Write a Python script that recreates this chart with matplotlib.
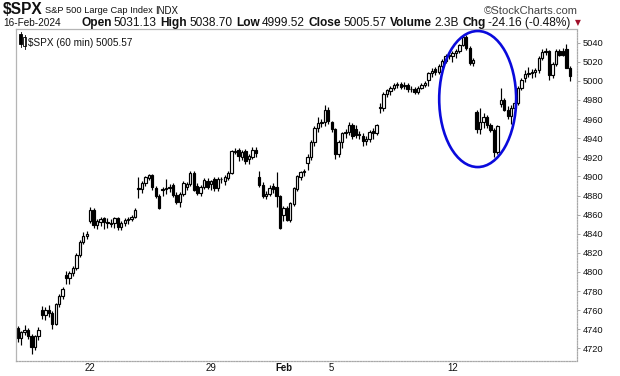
import matplotlib
matplotlib.use("Agg")
import matplotlib.pyplot as plt
from matplotlib.patches import Rectangle, Ellipse

# ---- data (60-min bars, Jan 17 - Feb 16 2024), 7 bars per trading day ----
opens = [4741, 4731, 4737, 4739, 4733, 4721, 4733,
         4760, 4755, 4760, 4757, 4746, 4766, 4775,
         4797, 4794, 4799, 4804, 4818, 4831, 4838,
         4853, 4865, 4849, 4852, 4856, 4852, 4851,
         4851, 4856, 4847, 4851, 4854, 4855, 4858,
         4888, 4887, 4893, 4898, 4902, 4888, 4880,
         4886, 4887, 4888, 4891, 4881, 4873, 4882,
         4889, 4892, 4904, 4890, 4883, 4889, 4895,
         4892, 4897, 4888, 4897, 4895, 4898, 4904,
         4926, 4928, 4920, 4927, 4918, 4920, 4928,
         4899, 4891, 4880, 4882, 4890, 4889, 4879,
         4860, 4867, 4854, 4871, 4887, 4899, 4905,
         4914, 4920, 4936, 4951, 4956, 4957, 4970,
         4957, 4950, 4923, 4936, 4945, 4946, 4954,
         4950, 4943, 4942, 4937, 4939, 4948, 4945,
         4973, 4972, 4986, 4989, 4993, 4996, 4997,
         4995, 4996, 4991, 4992, 4988, 4993, 4996,
         5001, 5008, 5012, 5009, 5016, 5021, 5026,
         5026, 5029, 5031, 5038, 5046, 5034, 5019,
         4967, 4950, 4957, 4962, 4954, 4949, 4926,
         4976, 4980, 4970, 4963, 4972, 4977, 4993,
         5003, 5007, 5008, 5009, 5011, 5024, 5030,
         5031.13, 5006, 5018, 5031, 5031, 5033, 5014]
highs = [4743, 4738, 4744, 4741, 4735, 4734, 4742,
         4764, 4763, 4765, 4759, 4768, 4777, 4784,
         4801, 4801, 4806, 4820, 4833, 4842, 4843,
         4868, 4867, 4855, 4857, 4858, 4856, 4855,
         4858, 4858, 4853, 4856, 4858, 4860, 4867,
         4899, 4895, 4900, 4903, 4903, 4890, 4882,
         4889, 4897, 4892, 4893, 4884, 4884, 4895,
         4894, 4906, 4906, 4893, 4891, 4898, 4898,
         4896, 4899, 4899, 4899, 4901, 4906, 4928,
         4930, 4930, 4928, 4929, 4923, 4931, 4931,
         4906, 4894, 4885, 4891, 4893, 4905, 4881,
         4869, 4869, 4873, 4889, 4901, 4906, 4908,
         4923, 4938, 4953, 4962, 4960, 4975, 4973,
         4958, 4951, 4938, 4947, 4950, 4957, 4956,
         4954, 4948, 4945, 4942, 4949, 4951, 4955,
         4977, 4988, 4992, 4995, 4998, 4999, 4999,
         4999, 4998, 4995, 4994, 4995, 4998, 5000,
         5009, 5013, 5015, 5018, 5023, 5028, 5030,
         5031, 5033, 5039, 5048, 5048, 5036, 5024,
         4970, 4972, 4966, 4964, 4956, 4951, 4954,
         4993, 4982, 4974, 4975, 4980, 4995, 5003,
         5011, 5015, 5012, 5013, 5026, 5033, 5034,
         5032, 5020, 5033, 5033, 5034, 5038.70, 5016]
lows = [4727, 4724, 4734, 4730, 4714, 4718, 4729,
        4751, 4750, 4753, 4740, 4744, 4763, 4772,
        4787, 4787, 4796, 4802, 4816, 4829, 4835,
        4851, 4846, 4845, 4848, 4845, 4846, 4847,
        4846, 4844, 4844, 4848, 4850, 4853, 4856,
        4877, 4883, 4890, 4896, 4886, 4877, 4866,
        4880, 4882, 4884, 4878, 4871, 4868, 4880,
        4886, 4890, 4885, 4881, 4880, 4887, 4887,
        4886, 4885, 4885, 4893, 4891, 4896, 4903,
        4923, 4916, 4917, 4913, 4913, 4918, 4920,
        4889, 4877, 4876, 4879, 4883, 4868, 4845,
        4853, 4853, 4852, 4869, 4885, 4896, 4900,
        4907, 4917, 4932, 4946, 4952, 4953, 4955,
        4947, 4918, 4920, 4930, 4940, 4943, 4939,
        4940, 4939, 4932, 4933, 4936, 4939, 4943,
        4966, 4968, 4983, 4985, 4990, 4993, 4991,
        4991, 4988, 4988, 4986, 4986, 4991, 4994,
        4995, 5004, 5006, 5007, 5014, 5019, 5023,
        5020, 5024, 5029, 5036, 5032, 5017, 5016,
        4945, 4944, 4951, 4951, 4946, 4920, 4923,
        4973, 4968, 4960, 4955, 4969, 4975, 4990,
        4999, 5004, 5003, 5004, 5008, 5022, 5027,
        5001, 5003, 5016, 5026, 5026, 5013, 4999.52]
closes = [4731, 4737, 4739, 4733, 4721, 4733, 4739,
          4755, 4760, 4757, 4746, 4766, 4775, 4782,
          4794, 4799, 4804, 4818, 4831, 4838, 4840,
          4865, 4849, 4853, 4855, 4852, 4851, 4850,
          4856, 4847, 4851, 4854, 4855, 4858, 4865,
          4887, 4893, 4899, 4902, 4889, 4880, 4867,
          4887, 4888, 4889, 4881, 4873, 4882, 4893,
          4892, 4904, 4886, 4883, 4889, 4896, 4889,
          4895, 4888, 4897, 4897, 4899, 4904, 4927,
          4927, 4921, 4926, 4916, 4921, 4928, 4924,
          4891, 4880, 4882, 4888, 4887, 4879, 4846,
          4867, 4854, 4872, 4888, 4900, 4905, 4906,
          4920, 4936, 4951, 4956, 4957, 4970, 4958,
          4950, 4923, 4936, 4945, 4946, 4954, 4942,
          4943, 4944, 4937, 4939, 4947, 4945, 4954,
          4972, 4986, 4990, 4993, 4996, 4997, 4994,
          4996, 4991, 4992, 4988, 4993, 4996, 4998,
          5008, 5010, 5009, 5016, 5021, 5026, 5027,
          5029, 5031, 5038, 5046, 5034, 5019, 5022,
          4950, 4957, 4962, 4954, 4949, 4926, 4953,
          4980, 4970, 4963, 4972, 4977, 4993, 5001,
          5007, 5008, 5009, 5011, 5024, 5030, 5031,
          5006, 5018, 5031, 5027, 5027, 5014, 5005.57]

x_tick_bars = [21, 56, 77, 91, 126]
x_tick_labels = ["22", "29", "Feb", "5", "12"]
y_ticks = list(range(4720, 5041, 20))

title_symbol = "$SPX"
title_name = "S&P 500 Large Cap Index"
title_exch = "INDX"
header_date = "16-Feb-2024"
header_fields = [("Open", "5031.13"), ("High", "5038.70"), ("Low", "4999.52"),
                 ("Close", "5005.57"), ("Volume", "2.3B"), ("Chg", "-24.16 (-0.48%)")]
legend_text = "$SPX (60 min) 5005.57"

# ---- figure ----
W, H = 620, 376
fig = plt.figure(figsize=(W / 100, H / 100), dpi=100)
fig.patch.set_facecolor("white")
L, R, T, B = 16, 576.7, 29.3, 360.7
ax = fig.add_axes([L / W, 1 - B / H, (R - L) / W, (B - T) / H])

FONT = ["Liberation Sans", "DejaVu Sans"]
TXT = "#111111"

lw = 0.85
bw = 0.68
for i, (o, h, l, c) in enumerate(zip(opens, highs, lows, closes)):
    ax.plot([i, i], [l, h], color="black", lw=lw, zorder=1, solid_capstyle="butt")
    bottom = min(o, c)
    height = max(abs(c - o), 0.8)
    up = c >= o
    ax.add_patch(Rectangle((i - bw / 2, bottom), bw, height,
                           facecolor="white" if up else "black",
                           edgecolor="black", lw=lw, zorder=2))

ax.add_patch(Ellipse((133.3, 4981), width=22.3, height=142.4, fill=False,
                     edgecolor="#0a0adc", lw=1.9, zorder=5))

ax.set_xlim(-0.5, 162)
ax.set_ylim(4707.1, 5054.0)

ax.yaxis.tick_right()
ax.set_yticks(y_ticks)
ax.set_yticklabels([str(v) for v in y_ticks], fontsize=6.7, family=FONT, color=TXT)
ax.tick_params(axis="y", direction="out", length=2.5, width=0.6, color="#999999", pad=2)

ax.set_xticks(x_tick_bars)
ax.set_xticklabels(x_tick_labels, fontsize=6.9, family=FONT, color=TXT)
for t in ax.get_xticklabels():
    if t.get_text() == "Feb":
        t.set_fontweight("bold")
ax.tick_params(axis="x", direction="out", length=0, pad=2)

for s in ["top", "left"]:
    ax.spines[s].set_color("#b5b5b5")
    ax.spines[s].set_linewidth(0.9)
for s in ["right", "bottom"]:
    ax.spines[s].set_color("#a8a8a8")
    ax.spines[s].set_linewidth(0.9)
    ax.spines[s].set_linestyle((0, (1, 1.2)))

# legend text inside plot
ax.text(0.021, 0.975, legend_text, transform=ax.transAxes,
        fontsize=7.2, family=FONT, va="top", ha="left", color=TXT)
for dx, (y0, y1, fill) in enumerate([(0.955, 0.985, "black"), (0.950, 0.978, "white")]):
    xx = 0.006 + dx * 0.007
    ax.plot([xx + 0.0022, xx + 0.0022], [y0 - 0.008, y1 + 0.006], transform=ax.transAxes,
            color="black", lw=0.6, clip_on=False)
    ax.add_patch(Rectangle((xx, y0), 0.0045, y1 - y0, transform=ax.transAxes,
                           facecolor=fill, edgecolor="black", lw=0.6, clip_on=False))

# ---- header ----
renderer = fig.canvas.get_renderer()


def fx(px):
    return px / W


def fy(py):
    return 1 - py / H


def width_px(t):
    return t.get_window_extent(renderer).width


def place_seq(tokens, x0, y, size, color=TXT):
    arts = []
    x = x0
    for text, bold, gap in tokens:
        t = fig.text(fx(x), fy(y), text, fontsize=size, family=FONT,
                     fontweight="bold" if bold else "normal",
                     va="center", ha="left", color=color)
        x += width_px(t) + gap
        arts.append(t)
    return arts, x


def fit_seq(tokens, x0, x_end, y, size, color=TXT):
    gaps = sum(g for _, _, g in tokens[:-1])
    arts, end = place_seq(tokens, x0, y, size, color)
    scale = (x_end - x0 - gaps) / (end - x0 - tokens[-1][2] - gaps)
    for a in arts:
        a.remove()
    arts, end = place_seq(tokens, x0, y, size * scale, color)
    return arts


fig.text(fx(3), fy(10), title_symbol, fontsize=11.2, fontweight="bold", family=FONT,
         va="center", ha="left", color=TXT)
fit_seq([(title_name, False, 0)], 45, 152, 10.5, 7.0)
fit_seq([(title_exch, False, 0)], 155, 178, 10.5, 7.0)
fit_seq([("\u00a9StockCharts.com", False, 0)], 484, 578, 10.5, 7.0, color="#444444")

fit_seq([(header_date, False, 0)], 3, 60, 23, 7.0)
tokens = []
for lab, val in header_fields:
    tokens.append((lab, True, 2.0))
    tokens.append((val, False, 4.0))
fit_seq(tokens, 81, 572, 23, 7.0)

fig.text(fx(578), fy(23), "\u25bc", fontsize=5.5, family=["DejaVu Sans"], va="center", ha="center",
         color="#a0102a")

fig.savefig("out.png", dpi=100, facecolor="white")
